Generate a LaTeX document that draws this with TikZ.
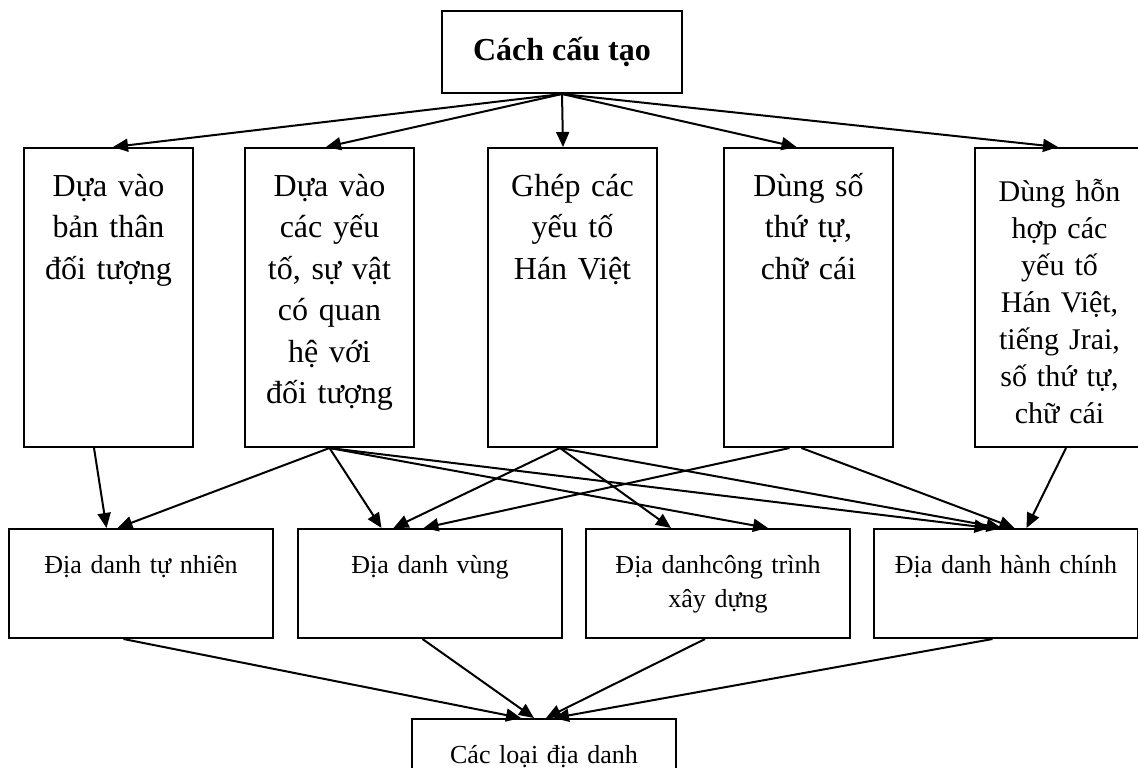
\documentclass[tikz,border=0pt]{standalone}
\usepackage{fontspec}
\setmainfont{Liberation Serif}
\usetikzlibrary{positioning, arrows.meta}

\begin{document}
\begin{tikzpicture}[x=0.5pt, y=-0.5pt, line width=1pt, >={Triangle[length=7.5pt, width=6.5pt]},
    every node/.style={draw, rectangle, anchor=north west, align=center, inner ysep=0pt, inner xsep=4pt},
    cach/.style={minimum width=120pt, minimum height=41pt, inner sep=0pt, font=\fontsize{16}{20}\selectfont\bfseries},
    cau/.style={text width=76.5pt, text height=24pt, text depth=125.5pt, font=\fontsize{16}{20.75}\selectfont},
    loai/.style={text width=124pt, text height=22pt, text depth=32.5pt, font=\fontsize{13}{17}\selectfont}]
    \useasboundingbox (0,0) rectangle (1138,767);
    \clip (0,0) rectangle (1138,767);

    \node [cach] (cach) at (441,10) {Cách cấu tạo};

    \node [cau] (tt) at (23,147) {Dựa vào\\bản thân\\đối tượng};
    \node [cau] (qh) at (244,147) {Dựa vào\\các yếu\\tố, sự vật\\có quan\\hệ với\\đối tượng};
    \node [cau] (hv) at (487,147) {Ghép các\\yếu tố\\Hán Việt};
    \node [cau] (so) at (723,147) {Dùng số\\thứ tự,\\chữ cái};
    \node [cau, text height=26.5pt, text depth=123pt, font=\fontsize{15}{18.5}\selectfont] (hh) at (974,147) {Dùng hỗn\\hợp các\\yếu tố\\Hán Việt,\\tiếng Jrai,\\số thứ tự,\\chữ cái};

    \node [loai] (tn) at (8,528) {Địa danh tự nhiên};
    \node [loai] (vung) at (297,528) {Địa danh vùng};
    \node [loai] (ct) at (585,528) {Địa danhcông trình\\xây dựng};
    \node [loai] (hc) at (873,528) {Địa danh hành chính};

    \node [loai] (cl) at (411,718) {Các loại địa danh};

    \draw [->] (cach.south) -- ([xshift=2.25pt]tt.north);
    \draw [->] (cach.south) -- ([xshift=-1.75pt]qh.north);
    \draw [->] (cach.south) -- ([xshift=-4.75pt]hv.north);
    \draw [->] (cach.south) -- ([xshift=-6pt]so.north);
    \draw [->] (cach.south) -- ([xshift=-0.75pt]hh.north);

    \draw [->] ([xshift=-7.25pt]tt.south) -- ([xshift=-17.25pt]tn.north);
    \draw [->] (qh.south) -- ([xshift=-11.75pt]tn.north);
    \draw [->] (qh.south) -- ([xshift=-24.25pt]vung.north);
    \draw [->] (qh.south) -- ([xshift=25pt]ct.north);
    \draw [->] (qh.south) -- ([xshift=-8.25pt]hc.north);
    \draw [->] ([xshift=-6.25pt]hv.south) -- ([xshift=-18.25pt]vung.north);
    \draw [->] ([xshift=-6.25pt]hv.south) -- ([xshift=-23.5pt]ct.north);
    \draw [->] ([xshift=-6.25pt]hv.south) -- ([xshift=-2.25pt]hc.north);
    \draw [->] ([xshift=-9.5pt]so.south) -- ([xshift=-3.25pt]vung.north);
    \draw [->] ([xshift=-3.5pt]so.south) -- ([xshift=4.25pt]hc.north);
    \draw [->] ([xshift=3.25pt]hh.south) -- ([xshift=10.25pt]hc.north);

    \draw [->] ([xshift=-8.75pt]tn.south) -- ([xshift=-11.5pt]cl.north);
    \draw [->] ([xshift=-3.75pt]vung.south) -- ([xshift=-5pt]cl.north);
    \draw [->] ([xshift=-6.5pt]ct.south) -- ([xshift=1pt]cl.north);
    \draw [->] ([xshift=-6.75pt]hc.south) -- ([xshift=5pt]cl.north);
\end{tikzpicture}
\end{document}
